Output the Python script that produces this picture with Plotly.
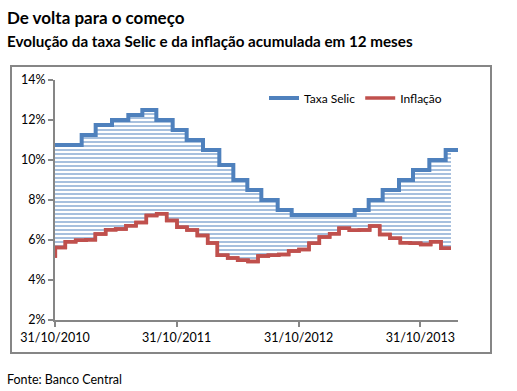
import plotly.graph_objects as go

# Taxa Selic (meta) - decision dates and values (%), last entry is end of series
selic_dates = ["2010-10-31", "2011-01-19", "2011-03-02", "2011-04-20", "2011-06-08",
               "2011-07-20", "2011-08-31", "2011-10-19", "2011-11-30", "2012-01-18",
               "2012-03-07", "2012-04-18", "2012-05-30", "2012-07-11", "2012-08-29",
               "2012-10-10", "2013-04-17", "2013-05-29", "2013-07-10", "2013-08-28",
               "2013-10-09", "2013-11-27", "2014-01-15", "2014-02-21"]
selic_values = [10.75, 11.25, 11.75, 12.00, 12.25,
                12.50, 12.00, 11.50, 11.00, 10.50,
                9.75, 9.00, 8.50, 8.00, 7.50,
                7.25, 7.50, 8.00, 8.50, 9.00,
                9.50, 10.00, 10.50, 10.50]

# Inflação acumulada em 12 meses (IPCA, %)
infl_dates = ["2010-10-31", "2010-11-01", "2010-12-01", "2011-01-01", "2011-02-01",
              "2011-03-01", "2011-04-01", "2011-05-01", "2011-06-01", "2011-07-01",
              "2011-08-01", "2011-09-01", "2011-10-01", "2011-11-01", "2011-12-01",
              "2012-01-01", "2012-02-01", "2012-03-01", "2012-04-01", "2012-05-01",
              "2012-06-01", "2012-07-01", "2012-08-01", "2012-09-01", "2012-10-01",
              "2012-11-01", "2012-12-01", "2013-01-01", "2013-02-01", "2013-03-01",
              "2013-04-01", "2013-05-01", "2013-06-01", "2013-07-01", "2013-08-01",
              "2013-09-01", "2013-10-01", "2013-11-01", "2013-12-01", "2014-01-01",
              "2014-01-31"]
infl_values = [5.20, 5.63, 5.91, 5.99, 6.01,
               6.30, 6.51, 6.55, 6.71, 6.87,
               7.23, 7.31, 6.97, 6.64, 6.50,
               6.22, 5.85, 5.24, 5.10, 4.99,
               4.92, 5.20, 5.24, 5.28, 5.45,
               5.53, 5.84, 6.15, 6.31, 6.59,
               6.49, 6.50, 6.70, 6.27, 6.09,
               5.86, 5.84, 5.77, 5.91, 5.59,
               5.59]

x_ticks = ["2010-10-31", "2011-10-31", "2012-10-31", "2013-10-31"]
x_tick_labels = ["31/10/2010", "31/10/2011", "31/10/2012", "31/10/2013"]
y_ticks = [2, 4, 6, 8, 10, 12, 14]
y_tick_labels = ["2%", "4%", "6%", "8%", "10%", "12%", "14%"]

BLUE = "#4F81BD"
RED = "#C0504D"
GRAY = "#868686"
FONT = "Lato, 'Open Sans', sans-serif"

# Selic path restricted to the span covered by the inflation series (for the shaded band)
infl_end = infl_dates[-1]
band_x = [d for d in selic_dates if d < infl_end]
band_y = [v for d, v in zip(selic_dates, selic_values) if d < infl_end]
band_x.append(infl_end)
band_y.append(band_y[-1])

fig = go.Figure()
fig.add_trace(go.Scatter(
    x=infl_dates, y=infl_values, mode="lines", name="Inflação",
    line=dict(color=RED, width=3.5, shape="hv"), showlegend=False, hoverinfo="skip",
))
fig.add_trace(go.Scatter(
    x=band_x, y=band_y, mode="lines", name="band",
    line=dict(color="rgba(0,0,0,0)", width=0, shape="hv"), showlegend=False,
    fill="tonexty", fillcolor="rgba(0,0,0,0)", hoverinfo="skip",
    fillpattern=dict(shape="-", size=4, solidity=0.5, fgcolor=BLUE, bgcolor="white"),
))
fig.add_trace(go.Scatter(
    x=selic_dates, y=selic_values, mode="lines", name="Taxa Selic",
    line=dict(color=BLUE, width=4, shape="hv"),
))
fig.add_trace(go.Scatter(
    x=infl_dates, y=infl_values, mode="lines", name="Inflação",
    line=dict(color=RED, width=3.5, shape="hv"),
))

W, H = 517, 391
L, R, T, B = 55, 59, 80, 71
pw, ph = W - L - R, H - T - B

def px(x):
    return (x - L) / pw

def py(y):
    return (H - B - y) / ph

fig.update_layout(
    width=W, height=H,
    margin=dict(l=L, r=R, t=T, b=B),
    paper_bgcolor="white", plot_bgcolor="white",
    font=dict(family=FONT, size=12, color="black"),
    showlegend=True,
    legend=dict(orientation="h", x=px(264), y=py(98), xanchor="left", yanchor="middle",
                font=dict(size=12, family=FONT), itemwidth=30, bgcolor="rgba(0,0,0,0)",
                traceorder="normal"),
    xaxis=dict(
        type="date", range=["2010-10-31", "2014-02-21"],
        tickvals=x_ticks, ticktext=x_tick_labels,
        showgrid=False, zeroline=False, showline=True, linecolor=GRAY, linewidth=2,
        ticks="outside", ticklen=5, tickcolor=GRAY, tickwidth=2,
        tickfont=dict(size=12.5, family=FONT),
    ),
    yaxis=dict(
        range=[2, 14], tickvals=y_ticks, ticktext=y_tick_labels,
        showgrid=False, zeroline=False, showline=True, linecolor=GRAY, linewidth=2,
        ticks="outside", ticklen=5, tickcolor=GRAY, tickwidth=2,
        tickfont=dict(size=12.5, family=FONT),
    ),
    shapes=[dict(type="rect", xref="paper", yref="paper",
                 x0=px(11), x1=px(491), y0=py(353), y1=py(66),
                 line=dict(color=GRAY, width=2), fillcolor="rgba(0,0,0,0)", layer="below")],
    annotations=[
        dict(text="<b>De volta para o começo</b>", xref="paper", yref="paper",
             x=px(5), y=py(17), xanchor="left", yanchor="middle", showarrow=False,
             font=dict(size=17, family=FONT)),
        dict(text="<b>Evolução da taxa Selic e da inflação acumulada em 12 meses</b>",
             xref="paper", yref="paper", x=px(5), y=py(41), xanchor="left", yanchor="middle",
             showarrow=False, font=dict(size=15.2, family=FONT)),
        dict(text="Fonte: Banco Central", xref="paper", yref="paper",
             x=px(5), y=py(379), xanchor="left", yanchor="middle", showarrow=False,
             font=dict(size=12.5, family=FONT)),
    ],
)

fig.write_html("out.html", config={"displayModeBar": False},
               post_script="document.body.style.margin='0';")
